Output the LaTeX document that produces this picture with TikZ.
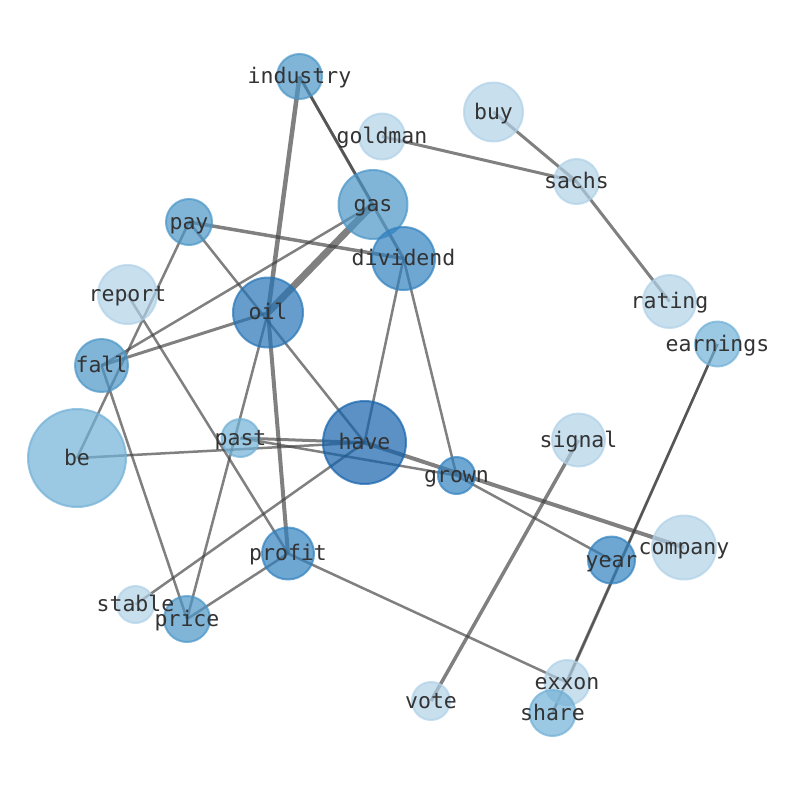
\documentclass[tikz,border=0pt]{standalone}
\usepackage{fontspec}
\newfontfamily\lblfont{DejaVu Sans Mono}
\definecolor{cL}{RGB}{176,209,231}
\definecolor{cML}{RGB}{112,176,214}
\definecolor{cM}{RGB}{74,149,199}
\definecolor{cMD}{RGB}{49,129,191}
\definecolor{cOil}{RGB}{38,116,182}
\definecolor{cHave}{RGB}{21,98,171}
\definecolor{lbltext}{RGB}{51,51,51}
\definecolor{edgecol}{RGB}{62,62,62}
\tikzset{
  vn/.style n args={2}{circle,inner sep=0pt,minimum size=#2,fill=#1,draw=#1,fill opacity=0.7,draw opacity=0.7,line width=2pt},
  lbl/.style={font=\lblfont\fontsize{21.5}{24}\selectfont,text=lbltext,inner sep=0pt,text height=16.3pt,text depth=5.2pt,yshift=-1.5pt},
  edge/.style={draw=edgecol,draw opacity=0.66,line width=#1},
  edge/.default=2.5pt
}
\begin{document}
\begin{tikzpicture}[x=1pt,y=-1pt]
\useasboundingbox (0,0) rectangle (794,790);
% coordinates of node centres
\coordinate (industry) at (299.5,76.5);
\coordinate (goldman) at (382,136.5);
\coordinate (buy) at (493.5,112);
\coordinate (sachs) at (576.5,181.5);
\coordinate (gas) at (373,204.5);
\coordinate (pay) at (189,222);
\coordinate (dividend) at (403.5,258.5);
\coordinate (report) at (127.5,294.5);
\coordinate (oil) at (268,312.5);
\coordinate (rating) at (669.5,301.5);
\coordinate (earnings) at (717.5,344);
\coordinate (fall) at (101.5,365.5);
\coordinate (be) at (77,458);
\coordinate (past) at (240.5,438);
\coordinate (have) at (364.5,442.5);
\coordinate (grown) at (456.5,475.5);
\coordinate (signal) at (578.5,440);
\coordinate (company) at (684,547.5);
\coordinate (year) at (611.5,560);
\coordinate (profit) at (288,553.5);
\coordinate (stable) at (135.5,604.5);
\coordinate (price) at (187,619);
\coordinate (exxon) at (567,682.5);
\coordinate (vote) at (431,701);
\coordinate (share) at (552.5,713);
% edges
\draw[edge=4.5pt] (industry) -- (oil);
\draw[edge=2.5pt] (industry) -- (gas);
\draw[edge=3pt] (industry) -- (dividend);
\draw[edge=3pt] (goldman) -- (sachs);
\draw[edge=3pt] (buy) -- (sachs);
\draw[edge=3pt] (sachs) -- (rating);
\draw[edge=3.5pt] (pay) -- (dividend);
\draw[edge] (pay) -- (be);
\draw[edge] (pay) -- (have);
\draw[edge=7pt] (gas) -- (oil);
\draw[edge] (gas) -- (fall);
\draw[edge=3pt] (oil) -- (fall);
\draw[edge] (report) -- (profit);
\draw[edge] (fall) -- (price);
\draw[edge] (oil) -- (price);
\draw[edge=4pt] (oil) -- (profit);
\draw[edge] (dividend) -- (have);
\draw[edge] (dividend) -- (grown);
\draw[edge] (be) -- (have);
\draw[edge=3pt] (past) -- (have);
\draw[edge] (past) -- (grown);
\draw[edge=4pt] (have) -- (company);
\draw[edge] (grown) -- (year);
\draw[edge] (have) -- (stable);
\draw[edge] (profit) -- (price);
\draw[edge] (profit) -- (exxon);
\draw[edge=3.5pt] (signal) -- (vote);
\draw[edge] (earnings) -- (exxon);
\draw[edge] (earnings) -- (share);
% node circles
\node[vn={cM}{45pt}] (n-industry) at (industry) {};
\node[vn={cL}{46pt}] (n-goldman) at (goldman) {};
\node[vn={cL}{59pt}] (n-buy) at (buy) {};
\node[vn={cL}{45pt}] (n-sachs) at (sachs) {};
\node[vn={cM}{69pt}] (n-gas) at (gas) {};
\node[vn={cM}{46pt}] (n-pay) at (pay) {};
\node[vn={cMD}{63pt}] (n-dividend) at (dividend) {};
\node[vn={cL}{59pt}] (n-report) at (report) {};
\node[vn={cOil}{70pt}] (n-oil) at (oil) {};
\node[vn={cL}{53pt}] (n-rating) at (rating) {};
\node[vn={cML}{45pt}] (n-earnings) at (earnings) {};
\node[vn={cM}{53pt}] (n-fall) at (fall) {};
\node[vn={cML}{98pt}] (n-be) at (be) {};
\node[vn={cML}{38pt}] (n-past) at (past) {};
\node[vn={cHave}{83pt}] (n-have) at (have) {};
\node[vn={cMD}{37pt}] (n-grown) at (grown) {};
\node[vn={cL}{53pt}] (n-signal) at (signal) {};
\node[vn={cL}{64pt}] (n-company) at (company) {};
\node[vn={cMD}{47pt}] (n-year) at (year) {};
\node[vn={cMD}{52pt}] (n-profit) at (profit) {};
\node[vn={cL}{37pt}] (n-stable) at (stable) {};
\node[vn={cM}{46pt}] (n-price) at (price) {};
\node[vn={cL}{45pt}] (n-exxon) at (exxon) {};
\node[vn={cL}{38pt}] (n-vote) at (vote) {};
\node[vn={cML}{46pt}] (n-share) at (share) {};
% labels
\node[lbl] (t-industry) at (industry) {industry};
\node[lbl] (t-goldman) at (goldman) {goldman};
\node[lbl] (t-buy) at (buy) {buy};
\node[lbl] (t-sachs) at (sachs) {sachs};
\node[lbl] (t-gas) at (gas) {gas};
\node[lbl] (t-pay) at (pay) {pay};
\node[lbl] (t-dividend) at (dividend) {dividend};
\node[lbl] (t-report) at (report) {report};
\node[lbl] (t-oil) at (oil) {oil};
\node[lbl] (t-rating) at (rating) {rating};
\node[lbl] (t-earnings) at (earnings) {earnings};
\node[lbl] (t-fall) at (fall) {fall};
\node[lbl] (t-be) at (be) {be};
\node[lbl] (t-past) at (past) {past};
\node[lbl] (t-have) at (have) {have};
\node[lbl] (t-grown) at (grown) {grown};
\node[lbl] (t-signal) at (signal) {signal};
\node[lbl] (t-company) at (company) {company};
\node[lbl] (t-year) at (year) {year};
\node[lbl] (t-profit) at (profit) {profit};
\node[lbl] (t-stable) at (stable) {stable};
\node[lbl] (t-price) at (price) {price};
\node[lbl] (t-exxon) at (exxon) {exxon};
\node[lbl] (t-vote) at (vote) {vote};
\node[lbl] (t-share) at (share) {share};
\end{tikzpicture}
\end{document}
